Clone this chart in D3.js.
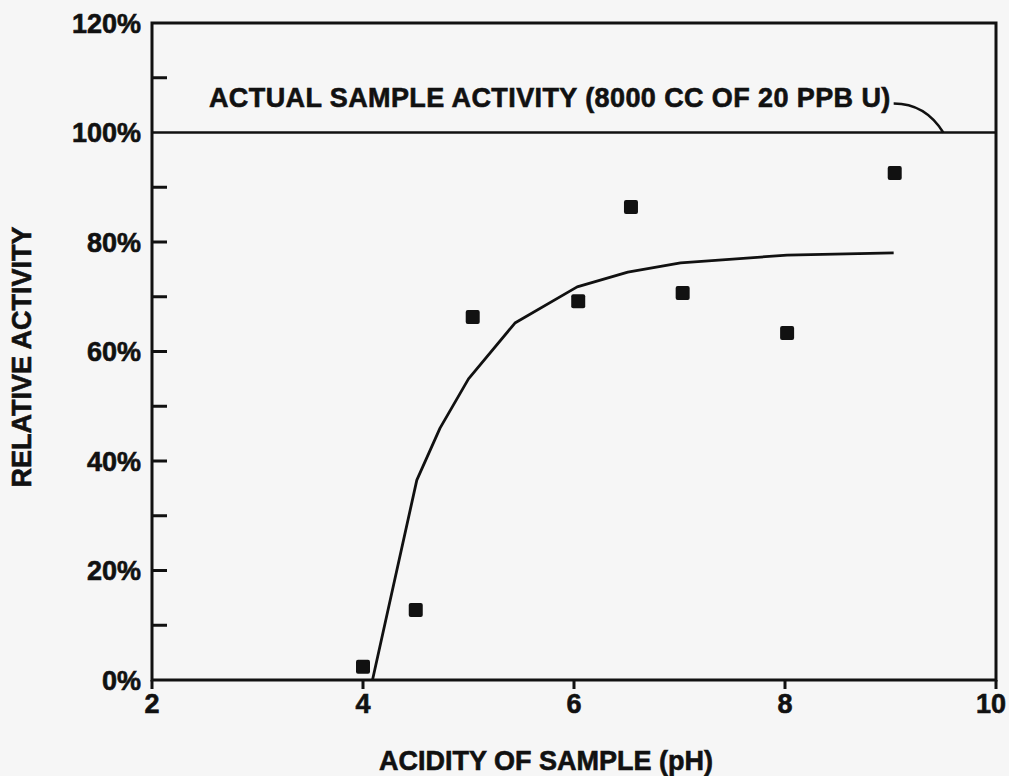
<!DOCTYPE html>
<html>
<head>
<meta charset="utf-8">
<style>
  body { margin: 0; background: #f6f6f6; }
  svg text { font-family: "Liberation Sans", Arial, sans-serif; font-weight: bold; fill: #111; stroke: #111; stroke-width: 0.6px; }
</style>
</head>
<body>
<svg id="chart" width="1009" height="776"></svg>
<script src="https://cdn.jsdelivr.net/npm/d3@7"></script>
<script>
// measured points
var phValues = [4.0, 4.5, 5.04, 6.04, 6.54, 7.03, 8.02, 9.04];
var activity = [2.4, 12.8, 66.3, 69.2, 86.4, 70.7, 63.4, 92.6];

// hand drawn fit line
var fitPh = [4.09, 4.51, 4.73, 5.0, 5.44, 6.03, 6.51, 7.01, 8.02, 9.03];
var fitActivity = [0, 36.5, 46, 55, 65.2, 71.8, 74.5, 76.2, 77.6, 78];

var xTicks = [2, 4, 6, 8, 10];
var yLabels = [0, 20, 40, 60, 80, 100, 120];
var yMinor = [10, 20, 30, 40, 50, 60, 70, 80, 90, 110];
var referenceLevel = 100;
var noteText = "ACTUAL SAMPLE ACTIVITY (8000 CC OF 20 PPB U)";

var svg = d3.select("#chart");
var x = d3.scaleLinear().domain([2, 10]).range([152, 996]);
var y = d3.scaleLinear().domain([0, 120]).range([680, 23]);

var ink = "#111";

// frame
svg.append("rect")
    .attr("x", x(2)).attr("y", y(120))
    .attr("width", x(10) - x(2)).attr("height", y(0) - y(120))
    .attr("fill", "none").attr("stroke", ink).attr("stroke-width", 3);

// y minor ticks, inward
svg.selectAll(".ytick").data(yMinor).enter().append("line")
    .attr("x1", x(2)).attr("x2", x(2) + 15)
    .attr("y1", function(d) { return y(d); }).attr("y2", function(d) { return y(d); })
    .attr("stroke", ink).attr("stroke-width", 3);

// x ticks, outward
svg.selectAll(".xtick").data(xTicks).enter().append("line")
    .attr("x1", function(d) { return x(d); }).attr("x2", function(d) { return x(d); })
    .attr("y1", y(0)).attr("y2", y(0) + 9)
    .attr("stroke", ink).attr("stroke-width", 3);

svg.selectAll(".ylab").data(yLabels).enter().append("text")
    .attr("x", 141).attr("y", function(d) { return y(d); })
    .attr("dy", "0.36em")
    .attr("text-anchor", "end")
    .attr("font-size", 27)
    .text(function(d) { return d + "%"; });

svg.selectAll(".xlab").data(xTicks).enter().append("text")
    .attr("x", function(d) { return Math.min(x(d), 991); }).attr("y", 713)
    .attr("text-anchor", "middle")
    .attr("font-size", 27)
    .text(function(d) { return d; });

// axis titles
svg.append("text")
    .attr("x", 546).attr("y", 770)
    .attr("text-anchor", "middle")
    .attr("font-size", 27)
    .text("ACIDITY OF SAMPLE (pH)");

svg.append("text")
    .attr("transform", "translate(31,357) rotate(-90)")
    .attr("text-anchor", "middle")
    .attr("font-size", 27)
    .text("RELATIVE ACTIVITY");

// 100% reference line + note
svg.append("line")
    .attr("x1", x(2)).attr("x2", x(10))
    .attr("y1", y(referenceLevel)).attr("y2", y(referenceLevel))
    .attr("stroke", ink).attr("stroke-width", 2.5);

svg.append("text")
    .attr("x", x(2.54)).attr("y", y(104.7))
    .attr("font-size", 27)
    .attr("letter-spacing", 0.4)
    .text(noteText);

svg.append("path")
    .attr("d", "M" + x(9.03) + "," + y(105.3) +
               " Q" + x(9.33) + "," + y(105.3) + " " + x(9.5) + "," + y(referenceLevel))
    .attr("fill", "none").attr("stroke", ink).attr("stroke-width", 2.5);

// fit line
var fit = fitPh.map(function(p, i) { return [p, fitActivity[i]]; });
svg.append("path")
    .datum(fit)
    .attr("fill", "none").attr("stroke", ink).attr("stroke-width", 2.8)
    .attr("stroke-linejoin", "round")
    .attr("d", d3.line().x(function(d) { return x(d[0]); }).y(function(d) { return y(d[1]); }));

// squares
var s = 14;
svg.selectAll(".pt").data(phValues).enter().append("rect")
    .attr("x", function(d) { return x(d) - s / 2; })
    .attr("y", function(d, i) { return y(activity[i]) - s / 2; })
    .attr("width", s).attr("height", s).attr("rx", 2)
    .attr("fill", ink);
</script>
</body>
</html>
